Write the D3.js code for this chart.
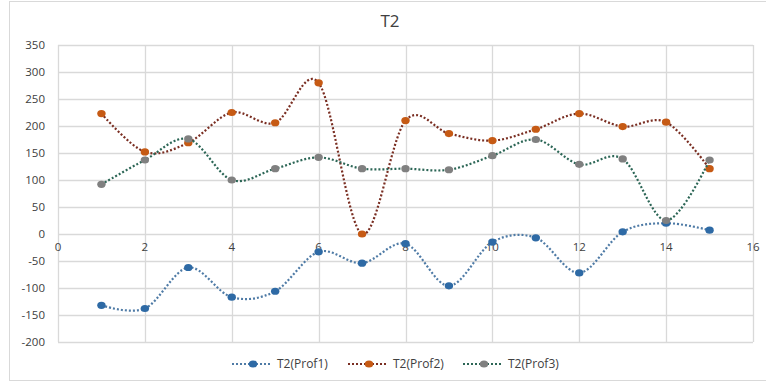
<!DOCTYPE html>
<html>
<head>
<meta charset="utf-8">
<script src="https://cdn.jsdelivr.net/npm/d3@7"></script>
<style>
  body { margin: 0; background: #fff; }
  svg { font-family: "Open Sans", "Liberation Sans", sans-serif; }
</style>
</head>
<body>
<div id="chart"></div>
<script>
// data
var xs = [1, 2, 3, 4, 5, 6, 7, 8, 9, 10, 11, 12, 13, 14, 15];
var prof1 = [-132, -138, -62, -117, -106, -33, -54, -18, -96, -15, -7, -72, 4, 20, 7];
var prof2 = [223, 152, 169, 225, 206, 280, 0, 210, 186, 173, 194, 223, 199, 207, 121];
var prof3 = [92, 137, 176, 100, 121, 142, 121, 121, 119, 145, 175, 129, 139, 25, 137];
var seriesNames = ["T2(Prof1)", "T2(Prof2)", "T2(Prof3)"];
var xTicks = [0, 2, 4, 6, 8, 10, 12, 14, 16];
var yTicks = [350, 300, 250, 200, 150, 100, 50, 0, -50, -100, -150, -200];

var W = 766, H = 382;
var margin = {top: 45, right: 13, bottom: 40, left: 58};
var width = W - margin.left - margin.right;
var height = 342 - margin.top;

var svg = d3.select("#chart").append("svg").attr("width", W).attr("height", H);

// outer chart border
svg.append("rect").attr("x", 9.5).attr("y", 1.5).attr("width", 770).attr("height", 379)
    .attr("fill", "none").attr("stroke", "#d9d9d9");

svg.append("text").attr("x", 390).attr("y", 27).attr("text-anchor", "middle")
    .style("font-size", "17px").style("fill", "#404040").text("T2");

var g = svg.append("g").attr("transform", "translate(" + margin.left + "," + margin.top + ")");

var x = d3.scaleLinear().domain([0, 16]).range([0, width]);
var y = d3.scaleLinear().domain([-200, 350]).range([height, 0]);

// grid
g.selectAll(".hgrid").data(yTicks).enter().append("line")
    .attr("x1", 0).attr("x2", width)
    .attr("y1", function (d) { return Math.round(y(d)) + 0.5; })
    .attr("y2", function (d) { return Math.round(y(d)) + 0.5; })
    .attr("stroke", "#d9d9d9").attr("stroke-width", 1.3);
g.selectAll(".vgrid").data(xTicks).enter().append("line")
    .attr("y1", 0).attr("y2", height)
    .attr("x1", function (d) { return Math.round(x(d)) + 0.5; })
    .attr("x2", function (d) { return Math.round(x(d)) + 0.5; })
    .attr("stroke", "#d9d9d9").attr("stroke-width", 1.3);

// y labels
g.selectAll(".ylab").data(yTicks).enter().append("text")
    .attr("x", -13).attr("y", function (d) { return y(d); }).attr("dy", "0.35em")
    .attr("text-anchor", "end").style("font-size", "11.5px").style("fill", "#404040")
    .text(function (d) { return d; });

// x labels sit under the zero line
g.selectAll(".xlab").data(xTicks).enter().append("text")
    .attr("x", function (d) { return x(d); }).attr("y", y(0) + 13).attr("dy", "0.35em")
    .attr("text-anchor", "middle").style("font-size", "11.5px").style("fill", "#404040")
    .text(function (d) { return d; });

var series = [
    {name: seriesNames[0], values: prof1, line: "#4f7ba6", marker: "#2e6aa5"},
    {name: seriesNames[1], values: prof2, line: "#7a2e22", marker: "#c65a14"},
    {name: seriesNames[2], values: prof3, line: "#2c6656", marker: "#808080"}
];

var line = d3.line()
    .x(function (d, i) { return x(xs[i]); })
    .y(function (d) { return y(d); })
    .curve(d3.curveCardinal.tension(0));

series.forEach(function (s) {
    g.append("path").datum(s.values).attr("d", line)
        .attr("fill", "none").attr("stroke", s.line).attr("stroke-width", 2.2)
        .attr("stroke-dasharray", "2,2");
    g.selectAll(null).data(s.values).enter().append("ellipse")
        .attr("cx", function (d, i) { return x(xs[i]); })
        .attr("cy", function (d) { return y(d); })
        .attr("rx", 4.2).attr("ry", 3.6)
        .attr("fill", s.marker);
});

// legend
var legendX = [232, 348, 463];
var legend = svg.selectAll(".legend").data(series).enter().append("g")
    .attr("transform", function (d, i) { return "translate(" + legendX[i] + ",364)"; });
legend.append("line").attr("x1", 0).attr("x2", 40).attr("y1", 0).attr("y2", 0)
    .attr("stroke", function (d) { return d.line; }).attr("stroke-width", 2.2)
    .attr("stroke-dasharray", "2,2");
legend.append("ellipse").attr("cx", 21).attr("cy", 0).attr("rx", 4.2).attr("ry", 3.6)
    .attr("fill", function (d) { return d.marker; });
legend.append("text").attr("x", 45).attr("y", 0).attr("dy", "0.35em")
    .style("font-size", "12px").style("fill", "#404040")
    .text(function (d) { return d.name; });
</script>
</body>
</html>
